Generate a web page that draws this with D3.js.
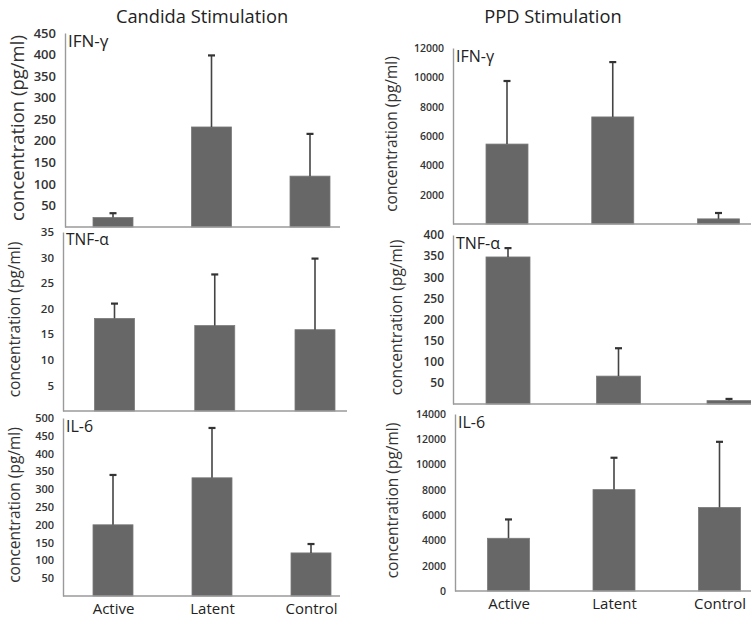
<!DOCTYPE html>
<html lang="en">
<head>
<meta charset="UTF-8">
<title>Cytokine concentrations</title>
<script src="https://d3js.org/d3.v7.min.js"></script>
<style>
  body { margin: 0; background: #fff; font-family: "Open Sans", Arial, sans-serif; }
  .yaxis .tick text { fill: #333; font-weight: 600; }
  .xaxis .tick text { fill: #222; font-weight: 400; }
  .ytitle { fill: #333; }
</style>
</head>
<body>
<svg id="chart" width="751" height="622"></svg>
<script>
// categories
const groups = ["Active", "Latent", "Control"];

// Candida stimulation: means and upper error (SD)
const candidaIFN = [22, 232, 118];
const candidaIFNErr = [10, 166, 98];
const candidaTNF = [18.1, 16.7, 15.9];
const candidaTNFErr = [2.9, 10, 13.9];
const candidaIL6 = [200, 332, 121];
const candidaIL6Err = [140, 140, 25];

// PPD stimulation
const ppdIFN = [5450, 7300, 350];
const ppdIFNErr = [4300, 3740, 400];
const ppdTNF = [348, 66, 8];
const ppdTNFErr = [21, 66, 4];
const ppdIL6 = [4170, 8020, 6610];
const ppdIL6Err = [1490, 2520, 5190];

// tick values per panel
const ticksCandidaIFN = d3.range(50, 451, 50);
const ticksCandidaTNF = d3.range(5, 36, 5);
const ticksCandidaIL6 = d3.range(50, 501, 50);
const ticksPpdIFN = d3.range(2000, 12001, 2000);
const ticksPpdTNF = d3.range(50, 401, 50);
const ticksPpdIL6 = d3.range(0, 14001, 2000);

const svg = d3.select("#chart");

// panel layout (each panel was pasted in separately, so positions differ a bit)
const panels = [
  { label: "IFN-\u03b3", vals: candidaIFN, err: candidaIFNErr, max: 450, ticks: ticksCandidaIFN,
    ax: 65, top: 33, base: 227, xEnd: 340, c0: 113, c1: 310, bw: 40,
    tickFs: 13, titleFs: 18.5, titleX: 19, labelFs: 17 },
  { label: "TNF-\u03b1", vals: candidaTNF, err: candidaTNFErr, max: 35, ticks: ticksCandidaTNF,
    ax: 63, top: 232, base: 411, xEnd: 347, c0: 114.5, c1: 315, bw: 40,
    tickFs: 11.5, titleFs: 15.5, titleX: 16, labelFs: 15.5 },
  { label: "IL-6", vals: candidaIL6, err: candidaIL6Err, max: 500, ticks: ticksCandidaIL6,
    ax: 63, top: 418, base: 596, xEnd: 340, c0: 113, c1: 311, bw: 40,
    tickFs: 11, titleFs: 15.5, titleX: 16, labelFs: 16, xlabels: true },
  { label: "IFN-\u03b3", vals: ppdIFN, err: ppdIFNErr, max: 12000, ticks: ticksPpdIFN,
    ax: 453, top: 48, base: 224, xEnd: 751, c0: 507, c1: 718.5, bw: 42,
    tickFs: 10.5, titleFs: 15.5, titleX: 393, labelFs: 16 },
  { label: "TNF-\u03b1", vals: ppdTNF, err: ppdTNFErr, max: 400, ticks: ticksPpdTNF,
    ax: 453, top: 235, base: 404, xEnd: 751, c0: 508, c1: 729, bw: 44,
    tickFs: 12, titleFs: 15.5, titleX: 398, labelFs: 16 },
  { label: "IL-6", vals: ppdIL6, err: ppdIL6Err, max: 14000, ticks: ticksPpdIL6,
    ax: 455, top: 414, base: 591, xEnd: 751, c0: 508.5, c1: 719.5, bw: 42,
    tickFs: 10.5, titleFs: 15.5, titleX: 394, labelFs: 16, xlabels: true }
];

// column titles
svg.append("text").attr("x", 202).attr("y", 23).attr("text-anchor", "middle")
  .attr("font-size", 18.3).attr("fill", "#222").text("Candida Stimulation");
svg.append("text").attr("x", 553).attr("y", 23).attr("text-anchor", "middle")
  .attr("font-size", 18.3).attr("fill", "#222").text("PPD Stimulation");

panels.forEach(p => {
  const y = d3.scaleLinear().domain([0, p.max]).range([p.base, p.top]);
  const x = d3.scalePoint().domain(groups).range([p.c0, p.c1]);
  const g = svg.append("g");

  // bars
  g.selectAll(".bar").data(p.vals).enter().append("rect")
    .attr("x", (d, i) => x(groups[i]) - p.bw / 2)
    .attr("y", d => y(d))
    .attr("width", p.bw)
    .attr("height", d => p.base - y(d))
    .attr("fill", "#676767")
    .attr("stroke", "#7a7a7a")
    .attr("stroke-width", 0.8);

  // error bars (upper only)
  g.selectAll(".err").data(p.vals).enter().append("line")
    .attr("x1", (d, i) => x(groups[i])).attr("x2", (d, i) => x(groups[i]))
    .attr("y1", d => y(d))
    .attr("y2", (d, i) => y(d + p.err[i]))
    .attr("stroke", "#444").attr("stroke-width", 1.6);
  g.selectAll(".cap").data(p.vals).enter().append("line")
    .attr("x1", (d, i) => x(groups[i]) - 3.5).attr("x2", (d, i) => x(groups[i]) + 3.5)
    .attr("y1", (d, i) => y(d + p.err[i])).attr("y2", (d, i) => y(d + p.err[i]))
    .attr("stroke", "#333").attr("stroke-width", 2.2);

  // baseline
  g.append("line").attr("x1", p.ax).attr("x2", p.xEnd)
    .attr("y1", p.base).attr("y2", p.base)
    .attr("stroke", "#9a9a9a").attr("stroke-width", 1.6);

  // y axis
  const yAxis = g.append("g").attr("class", "yaxis").attr("transform", `translate(${p.ax},0)`)
    .call(d3.axisLeft(y).tickValues(p.ticks).tickFormat(d3.format("d")).tickSize(0).tickPadding(9));
  yAxis.select(".domain").attr("stroke", "#9a9a9a").attr("stroke-width", 1.4);
  yAxis.selectAll("text").attr("font-size", p.tickFs)
    .attr("font-family", "'Open Sans', Arial, sans-serif");

  // y title
  g.append("text").attr("class", "ytitle")
    .attr("transform", `translate(${p.titleX},${(p.top + p.base) / 2 - 2}) rotate(-90)`)
    .attr("text-anchor", "middle").attr("dominant-baseline", "middle")
    .attr("font-size", p.titleFs).text("concentration (pg/ml)");

  // cytokine label
  g.append("text").attr("x", p.ax + 3).attr("y", p.top + p.labelFs * 0.85)
    .attr("font-size", p.labelFs).attr("fill", "#222").text(p.label);

  // category labels
  if (p.xlabels) {
    const xAxis = g.append("g").attr("class", "xaxis").attr("transform", `translate(0,${p.base})`)
      .call(d3.axisBottom(x).tickSize(0).tickPadding(7));
    xAxis.select(".domain").remove();
    xAxis.selectAll("text").attr("font-size", 15)
      .attr("font-family", "'Open Sans', Arial, sans-serif");
  }
});
</script>
</body>
</html>
